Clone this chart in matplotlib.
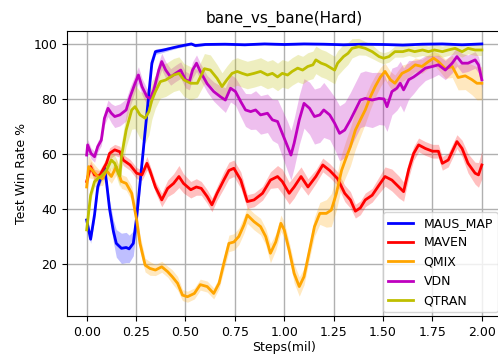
import numpy as np
import matplotlib
matplotlib.use("Agg")
import matplotlib.pyplot as plt

# values (steps in millions, win rate in %)
maus_x = [0, 0.02, 0.04, 0.056, 0.075, 0.09, 0.1, 0.116, 0.135, 0.15,
          0.176, 0.2, 0.215, 0.236, 0.253, 0.28, 0.305, 0.33, 0.348, 0.39,
          0.43, 0.46, 0.5, 0.53, 0.55, 0.6, 0.7, 0.8, 0.9, 1.0,
          1.1, 1.2, 1.3, 1.4, 1.5, 1.6, 1.7, 1.8, 1.9, 2.0]
maus_y = [36, 29, 38, 48, 52, 55, 50, 40, 32, 27.5,
          25.7, 26, 25.5, 27.5, 37, 56.6, 74.8, 93, 97.2, 97.8,
          98.5, 99, 99.6, 100, 99.4, 99.8, 99.9, 99.7, 100, 99.8,
          100, 99.9, 99.7, 99.9, 99.8, 99.6, 99.9, 100, 99.7, 100]
maus_sd = [1.5, 1.5, 2, 2, 1.5, 1.5, 2, 3, 4, 5,
           5.5, 5.5, 5, 4.5, 3.5, 2.5, 2, 1.5, 1, 0.8,
           0.6, 0.5, 0.5, 0.4, 0.5, 0.4, 0.4, 0.4, 0.3, 0.4,
           0.3, 0.3, 0.4, 0.3, 0.3, 0.4, 0.3, 0.3, 0.4, 0.3]

maven_x = [0, 0.02, 0.04, 0.065, 0.1, 0.116, 0.142, 0.168, 0.185, 0.22,
           0.253, 0.28, 0.305, 0.32, 0.348, 0.38, 0.41, 0.44, 0.467, 0.49,
           0.527, 0.555, 0.58, 0.61, 0.634, 0.66, 0.694, 0.72, 0.745, 0.78,
           0.813, 0.847, 0.89, 0.93, 0.966, 0.99, 1.025, 1.05, 1.085, 1.12,
           1.16, 1.195, 1.23, 1.27, 1.306, 1.335, 1.36, 1.385, 1.41, 1.445,
           1.48, 1.51, 1.545, 1.58, 1.604, 1.63, 1.655, 1.68, 1.714, 1.75,
           1.78, 1.8, 1.83, 1.874, 1.9, 1.93, 1.966, 1.983, 2.0]
maven_y = [50, 55.4, 52.4, 52, 56.6, 60.2, 61.5, 60.8, 57.8, 56,
           53, 52.4, 56.6, 54, 48, 43.3, 47.5, 49.3, 51.8, 49.3,
           47, 48, 47.5, 44.5, 41.5, 45.7, 50.5, 54, 54.8, 50.5,
           42.7, 43.3, 45.7, 50.5, 51.8, 50, 45.7, 48, 51.8, 48,
           51.8, 56, 54, 51, 45.7, 43.3, 39.2, 40.4, 43.3, 45,
           48.7, 51.8, 50.5, 48, 46.3, 54.4, 60.2, 63.3, 62, 61,
           61, 56.6, 57.8, 64.5, 62, 56.6, 53, 52.4, 56]
maven_sd = [2, 2, 2, 2, 2, 2, 2, 2, 2, 2,
            2, 2, 2.5, 2, 2, 2.5, 3, 3.5, 4, 3.5,
            3, 3, 2.5, 2.5, 2.5, 2.5, 3, 3, 3, 3,
            2.5, 2.5, 2.5, 3, 4, 4.5, 4, 4, 3.5, 3,
            2.5, 2.5, 2.5, 2.5, 3, 3, 2.5, 2.5, 2.5, 2.5,
            3, 3.5, 4, 4, 3.5, 3, 2.5, 2.5, 2.5, 2.5,
            2.5, 2.5, 2.5, 2.5, 3, 3.5, 4, 4.5, 5]

qmix_x = [0, 0.01, 0.03, 0.056, 0.08, 0.1, 0.125, 0.15, 0.176, 0.2,
          0.228, 0.253, 0.27, 0.296, 0.32, 0.348, 0.38, 0.41, 0.433, 0.46,
          0.485, 0.51, 0.545, 0.575, 0.61, 0.643, 0.67, 0.694, 0.72, 0.745,
          0.77, 0.796, 0.813, 0.847, 0.88, 0.906, 0.93, 0.957, 0.983, 1.0,
          1.025, 1.05, 1.076, 1.1, 1.128, 1.153, 1.18, 1.213, 1.238, 1.264,
          1.29, 1.31, 1.335, 1.36, 1.385, 1.41, 1.436, 1.46, 1.487, 1.51,
          1.537, 1.56, 1.596, 1.63, 1.663, 1.697, 1.73, 1.756, 1.78, 1.815,
          1.85, 1.88, 1.916, 1.95, 1.975, 2.0]
qmix_y = [48, 55.4, 54, 51.8, 51, 54, 51.8, 55.4, 50, 49.3,
          45.7, 36, 27.5, 19.6, 18.4, 17.8, 19, 17.2, 15.4, 13,
          8.7, 8.1, 9.3, 12.5, 11.8, 9.3, 13, 20.2, 27.5, 28,
          30, 34.2, 37.8, 35.4, 33.6, 30, 23.9, 28, 34.8, 32.4,
          25, 16.6, 11.8, 15.4, 25, 33.6, 38.4, 38.4, 39.6, 45.7,
          54, 58, 62.7, 68.7, 72.4, 76, 80.8, 84.5, 88, 90,
          87, 85.7, 89.3, 90.5, 92.4, 91.8, 93.6, 94.8, 93.6, 91,
          91.8, 87.8, 88.4, 87, 85.7, 85.7]
qmix_sd = [4, 4, 3, 3, 2.5, 2.5, 2.5, 3, 2.5, 2.5,
           2.5, 3, 3, 2.5, 2.5, 2, 2, 2, 2.5, 2.5,
           2, 2, 2, 2, 2, 2, 2, 2.5, 3, 3,
           3, 3, 3, 3, 3, 3, 3.5, 3, 3, 3,
           3, 3.5, 3.5, 3, 3, 3.5, 4, 5, 6, 6,
           6, 6.5, 7, 7, 6, 5, 4.5, 4, 3.5, 3,
           3, 3, 3, 2.5, 2.5, 2.5, 2.5, 2.5, 3, 3.5,
           4, 4.5, 5, 5.5, 6, 6]

vdn_x = [0, 0.005, 0.022, 0.04, 0.056, 0.074, 0.09, 0.108, 0.125, 0.142,
         0.168, 0.2, 0.22, 0.245, 0.262, 0.28, 0.305, 0.322, 0.34, 0.365,
         0.38, 0.4, 0.425, 0.45, 0.476, 0.5, 0.52, 0.536, 0.556, 0.575,
         0.61, 0.643, 0.677, 0.702, 0.728, 0.753, 0.78, 0.804, 0.83, 0.855,
         0.88, 0.915, 0.94, 0.966, 0.99, 1.017, 1.034, 1.05, 1.076, 1.1,
         1.128, 1.153, 1.18, 1.2, 1.23, 1.255, 1.28, 1.306, 1.335, 1.36,
         1.385, 1.41, 1.445, 1.48, 1.505, 1.52, 1.545, 1.57, 1.587, 1.604,
         1.63, 1.655, 1.68, 1.714, 1.75, 1.78, 1.815, 1.85, 1.874, 1.9,
         1.93, 1.966, 1.983, 2.0]
vdn_y = [59.6, 63.3, 60.2, 59, 62.7, 65, 73, 76.6, 74.8, 73.6,
         74.2, 76, 80.8, 85.7, 88.7, 84.5, 80.8, 80.2, 83.3, 90.5,
         93.6, 90.5, 88, 89.3, 90.5, 87, 86.3, 90.5, 93, 90,
         85.5, 82.7, 80.8, 79.6, 83.9, 82.7, 79, 76, 75.4, 76,
         74.2, 74.8, 72.4, 71.8, 67.5, 62.7, 59.6, 63.9, 72.4, 78.4,
         76.6, 73.6, 74.2, 76, 74.2, 71.2, 67.5, 68.7, 72.4, 76,
         79.6, 80.2, 79.6, 80.2, 80, 77.2, 82.7, 83.9, 85.7, 83.3,
         87, 88, 89.3, 91.2, 91.8, 92.4, 90.5, 93, 95.4, 93,
         93, 94.2, 92.4, 87]
vdn_sd = [2, 2, 2, 2, 2, 2, 2.5, 3, 3.5, 4,
          4, 4, 3.5, 3, 3, 3, 3, 3, 3, 3,
          3, 3, 3, 3, 3, 3, 3, 3, 3, 3,
          3, 3.5, 4, 4.5, 5, 5, 5.5, 6, 6.5, 7,
          7, 7, 7.5, 8, 8.5, 9, 9, 9, 9, 9,
          9.5, 10, 10, 10, 9, 9.5, 10, 10, 10, 10,
          10, 10, 10, 9.5, 9.5, 9, 8.5, 8, 8, 8,
          7, 6, 5, 4.5, 4, 3.5, 3.5, 3.5, 3.5, 3.5,
          3, 3, 3, 3]

qtran_x = [0, 0.02, 0.04, 0.056, 0.075, 0.1, 0.125, 0.142, 0.16, 0.168,
           0.176, 0.2, 0.228, 0.245, 0.27, 0.296, 0.315, 0.33, 0.348, 0.373,
           0.4, 0.44, 0.467, 0.493, 0.527, 0.56, 0.596, 0.626, 0.66, 0.685,
           0.71, 0.736, 0.762, 0.787, 0.813, 0.847, 0.88, 0.915, 0.94, 0.966,
           0.99, 1.017, 1.04, 1.068, 1.093, 1.119, 1.145, 1.16, 1.187, 1.21,
           1.238, 1.255, 1.27, 1.3, 1.323, 1.343, 1.377, 1.41, 1.445, 1.48,
           1.503, 1.53, 1.56, 1.6, 1.63, 1.66, 1.7, 1.73, 1.76, 1.8,
           1.83, 1.865, 1.9, 1.93, 1.966, 2.0]
qtran_y = [32.4, 45, 50, 51, 52, 54, 57.8, 56.6, 53, 52,
           59, 68.7, 76, 77.2, 74.2, 73, 75.4, 79.6, 82.7, 86.3,
           86.9, 88.7, 89.3, 86.9, 85.7, 85.7, 91, 90.5, 87.5, 84.5,
           87, 89.3, 90, 89.3, 88.7, 89.3, 90, 88.7, 89.3, 88,
           89.3, 88.7, 90, 91.2, 90.5, 91.8, 92.4, 94.2, 93, 92.4,
           91.2, 90.5, 93, 95.4, 96.6, 98.4, 99, 98.4, 97.2, 95.4,
           94.8, 95.4, 97.2, 97.2, 97.8, 97.2, 97.8, 97.2, 97.8, 97.2,
           97.8, 98.4, 97.2, 98.4, 97.8, 97.8]
qtran_sd = [2, 2, 2, 2, 2, 2.5, 3, 3, 3.5, 4,
            5, 6, 7, 8, 8.5, 9, 8.5, 7, 6, 6,
            6, 6, 6, 6, 6, 5, 5.5, 5.5, 5, 5,
            5, 5, 5, 5, 5, 5, 5, 5, 5, 5,
            5, 5, 5, 5, 5, 5, 5, 5, 5, 5,
            5, 5, 4.5, 4.5, 4, 3.5, 3, 2.5, 2.5, 2,
            2, 2, 2, 2, 2, 2, 2, 2, 2, 2,
            2, 2, 2, 2, 2, 2]

labels = ["MAUS_MAP", "MAVEN", "QMIX", "VDN", "QTRAN"]
colors = ["b", "r", "orange", "m", "y"]
series = [(maus_x, maus_y, maus_sd), (maven_x, maven_y, maven_sd),
          (qmix_x, qmix_y, qmix_sd), (vdn_x, vdn_y, vdn_sd),
          (qtran_x, qtran_y, qtran_sd)]

fig = plt.figure(figsize=(4.98, 3.55), dpi=100)
ax = fig.add_axes([66.9 / 498, 1 - 316 / 355, 434.7 / 498, 285 / 355])

for (x, y, sd), lab, c in zip(series, labels, colors):
    x = np.array(x)
    y = np.array(y)
    sd = np.array(sd)
    ax.fill_between(x, y - sd, y + sd, color=c, alpha=0.25, linewidth=0)
    ax.plot(x, y, color=c, lw=2, label=lab)

ax.set_xlim(-0.1, 2.1)
ax.set_ylim(1.1, 104.7)
ax.set_xticks(np.arange(0, 2.01, 0.25))
ax.set_xticklabels(["%.2f" % t for t in np.arange(0, 2.01, 0.25)])
ax.set_yticks([20, 40, 60, 80, 100])
ax.tick_params(labelsize=9)
ax.grid(True, color="#b0b0b0", lw=1)
ax.set_axisbelow(True)

ax.set_title("bane_vs_bane(Hard)", fontsize=11)
ax.set_xlabel("Steps(mil)", fontsize=9, labelpad=2)
ax.set_ylabel("Test Win Rate %", fontsize=9)
ax.legend(loc="lower right", fontsize=9, borderaxespad=0.3)

fig.savefig("out.png", dpi=100)
